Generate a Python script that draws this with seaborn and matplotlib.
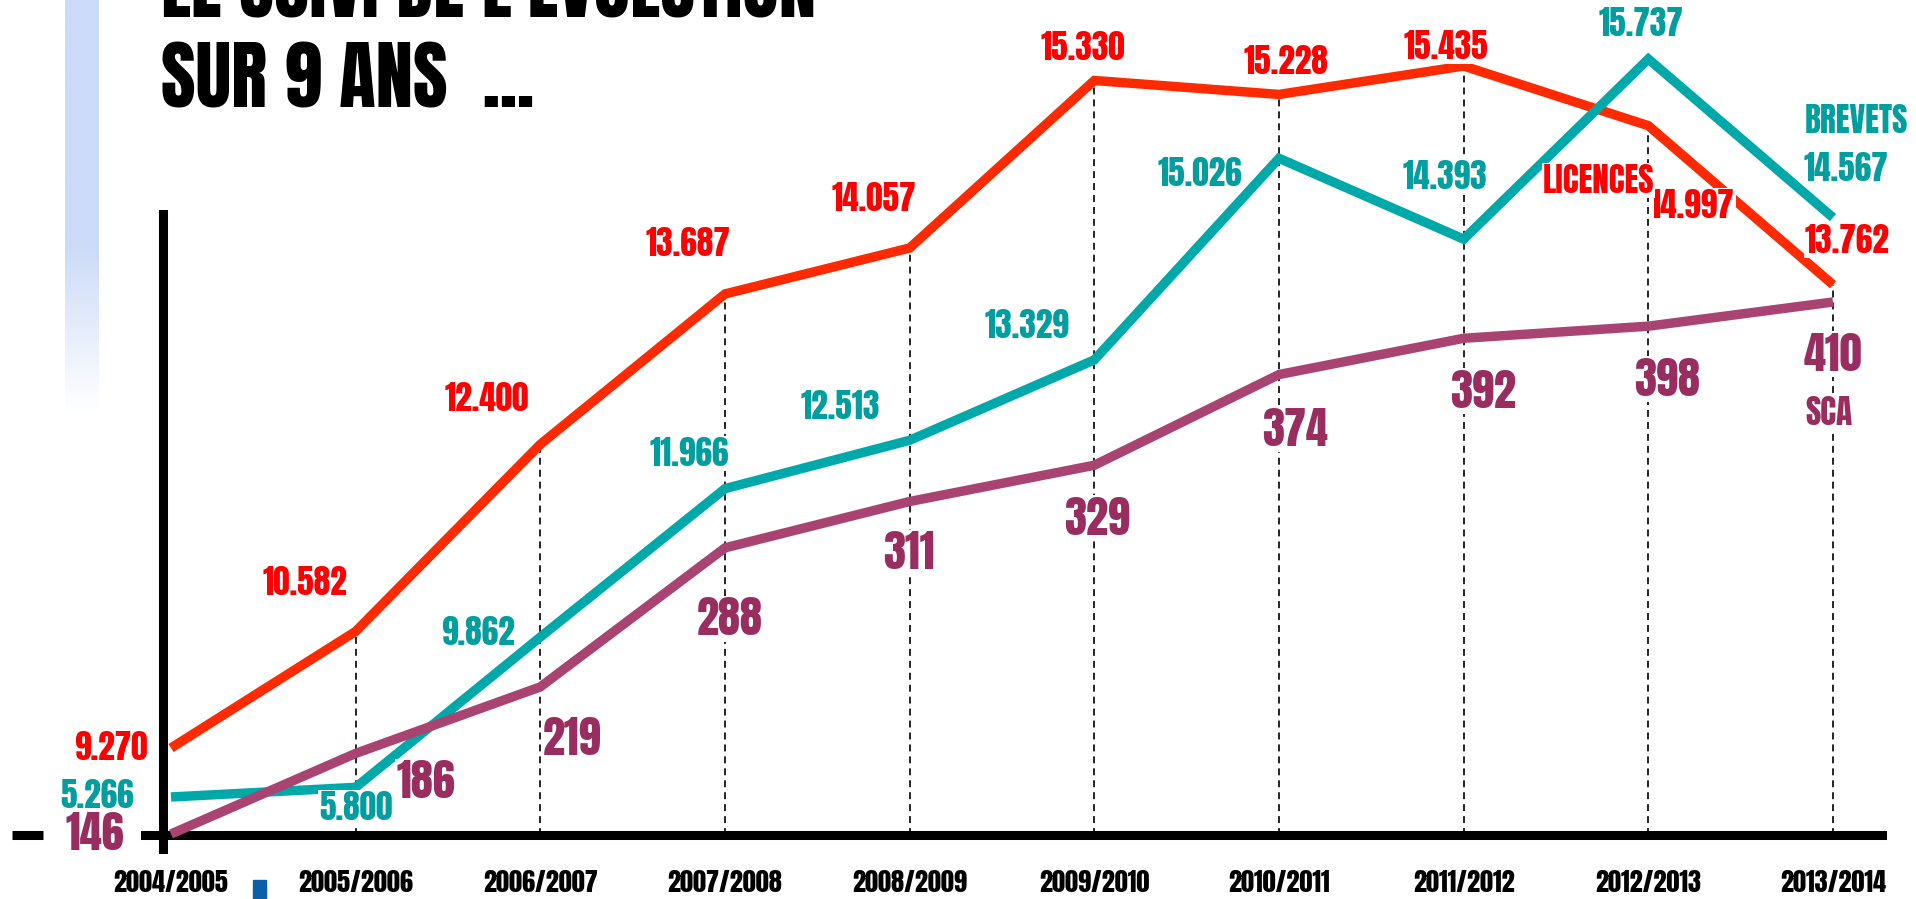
import numpy as np
import matplotlib
matplotlib.use('Agg')
import matplotlib.pyplot as plt
from matplotlib.patches import Rectangle
import seaborn as sns

# data
years = ['2004/2005', '2005/2006', '2006/2007', '2007/2008', '2008/2009',
         '2009/2010', '2010/2011', '2011/2012', '2012/2013', '2013/2014']
licences = [9270, 10582, 12400, 13687, 14057, 15330, 15228, 15435, 14997, 13762]
brevets = [5266, 5800, 9862, 11966, 12513, 13329, 15026, 14393, 15737, 14567]
sca = [146, 186, 219, 288, 311, 329, 374, 392, 398, 410]

# label offsets from their point, in pixels (dx, dy down)
off_lic = [(-60, 0), (-51, -49), (-54, -46), (-37, -50), (-36, -49),
           (-11, -33), (7, -33), (-18, -19), (44, 80), (14, -44)]
off_brev = [(-74, -2), (0, 20), (-62, -5), (-36, -35), (-69, -34),
            (-67, -34), (-79, 15), (-19, -63), (-7, -35), (13, -49)]
off_sca = [(-76, -1), (70, 28), (32, 52), (5, 71), (-1, 51),
           (3, 53), (16, 55), (19, 53), (19, 53), (0, 52)]

RED, RED_T = '#FF2A00', '#FF0000'
TEAL, TEAL_T = '#00A9A9', '#009E9E'
PURP, PURP_T = '#A84372', '#992D60'

W, H = 1916, 899
BASE_PX = 835

sns.set_style('white')
plt.rcParams['font.family'] = ['Anton', 'Oswald', 'Open Sans Condensed', 'DejaVu Sans']
plt.rcParams['text.color'] = 'black'
plt.rcParams['lines.scale_dashes'] = False


def power_scale(p, unit):
    # the original drawing stretches the upper values; a signed power scale follows it
    fwd = lambda v: np.sign(v) * np.abs(np.asarray(v, float) / unit) ** p
    inv = lambda u: np.sign(u) * np.abs(np.asarray(u, float)) ** (1 / p) * unit
    return fwd, inv


def ylim_from(fwd, inv, v_lo, px_lo, v_hi, px_hi):
    # px measured from the top of the figure
    u_lo, u_hi = fwd(v_lo), fwd(v_hi)
    s = (px_lo - px_hi) / (u_hi - u_lo)
    return float(inv(u_lo - (H - px_lo) / s)), float(inv(u_hi + px_hi / s))


def fmt(v):
    return f'{v:,}'.replace(',', '.')


x = np.arange(len(years))
step = (1833 - 171) / (len(years) - 1)
px2x = lambda p: (p - 171) / step

fig = plt.figure(figsize=(W / 100, H / 100), dpi=100)
fig.patch.set_facecolor('white')

# light blue bar on the left
bar = fig.add_axes([65 / W, 1 - 413 / H, 34 / W, 413 / H])
n = 200
alpha = np.ones(n)
alpha[120:] = np.linspace(1, 0, n - 120)
grad = np.zeros((n, 1, 4))
grad[:, 0, :3] = [0.80, 0.86, 0.97]
grad[:, 0, 3] = alpha
bar.imshow(grad, aspect='auto', interpolation='bilinear')
bar.axis('off')

# base axes: frame, ticks, year labels (y in pixels from top)
ax = fig.add_axes([0, 0, 1, 1], facecolor='none')
ax.set_xlim(px2x(0), px2x(W))
ax.set_ylim(H, 0)
for side in ['top', 'right']:
    ax.spines[side].set_visible(False)
ax.spines['bottom'].set_position(('data', BASE_PX))
ax.spines['bottom'].set_bounds(px2x(145), px2x(1882))
ax.spines['bottom'].set_linewidth(6.5)
ax.spines['left'].set_position(('data', px2x(163)))
ax.spines['left'].set_bounds(214, 849)
ax.spines['left'].set_linewidth(6.5)
for sp in ax.spines.values():
    sp.set_color('black')
ax.hlines(BASE_PX, px2x(12), px2x(43), color='black', lw=6.5)
ax.set_yticks([])
ax.set_xticks(x)
ax.set_xticklabels(years)
ax.tick_params(axis='x', direction='out', length=16.5, width=2.9, pad=9,
               labelsize=19, colors='black')

fig.add_artist(Rectangle((253 / W, 0), 13 / W, 19 / H, transform=fig.transFigure,
                         color='#0B5EA8'))

# title
fig.text(161 / W, 1 - 17 / H, "LE SUIVI DE L'EVOLUTION", fontsize=54,
         va='baseline', ha='left', color='black')
fig.text(161 / W, 1 - 108 / H, 'SUR 9 ANS  ...', fontsize=54,
         va='baseline', ha='left', color='black')

series = [
    (licences, RED, RED_T, off_lic, 2, 1000, (9270, 748, 15435, 66), 24, 'LICENCES', (8, (-50, 55))),
    (brevets, TEAL, TEAL_T, off_brev, 3, 1000, (5266, 797, 15737, 59), 24, 'BREVETS', (9, (23, -97))),
    (sca, PURP, PURP_T, off_sca, 1, 1, (146, 834, 410, 302), 32, 'SCA', (9, (-4, 110))),
]

axes = []
for k, (vals, lc, tc, offs, p, unit, anchors, fs, name, name_pos) in enumerate(series):
    a = ax.twinx()
    a.set_xlim(ax.get_xlim())
    fwd, inv = power_scale(p, unit)
    if p != 1:
        a.set_yscale('function', functions=(fwd, inv))
    a.set_ylim(*ylim_from(fwd, inv, *anchors))
    a.axis('off')
    if k == 0:
        base = a.transData.inverted().transform((0, H - BASE_PX))[1]
        a.vlines(x[1:], base, vals[1:], colors='black', lw=1.2,
                 linestyles=(0, (5, 3.6)), zorder=1)
    sns.lineplot(x=x, y=vals, ax=a, color=lc, lw=6.8, zorder=2,
                 solid_capstyle='butt', solid_joinstyle='miter')
    axes.append(a)

# value labels on the top layer, anchored to their own series axes
top = axes[-1]
for a, (vals, lc, tc, offs, p, unit, anchors, fs, name, name_pos) in zip(axes, series):
    for i, v in enumerate(vals):
        dx, dy = offs[i]
        top.annotate(fmt(v), xy=(i, v), xycoords=a.transData, xytext=(dx, -dy),
                     textcoords='offset pixels', ha='center', va='center',
                     fontsize=fs, color=tc, zorder=3,
                     bbox=dict(boxstyle='square,pad=0.03', fc='white', ec='none'))
    i, (dx, dy) = name_pos
    top.annotate(name, xy=(i, vals[i]), xycoords=a.transData, xytext=(dx, -dy),
                 textcoords='offset pixels', ha='center', va='center',
                 fontsize=24, color=tc, zorder=3,
                 bbox=dict(boxstyle='square,pad=0.03', fc='white', ec='none'))

fig.savefig('out.png', dpi=100)
